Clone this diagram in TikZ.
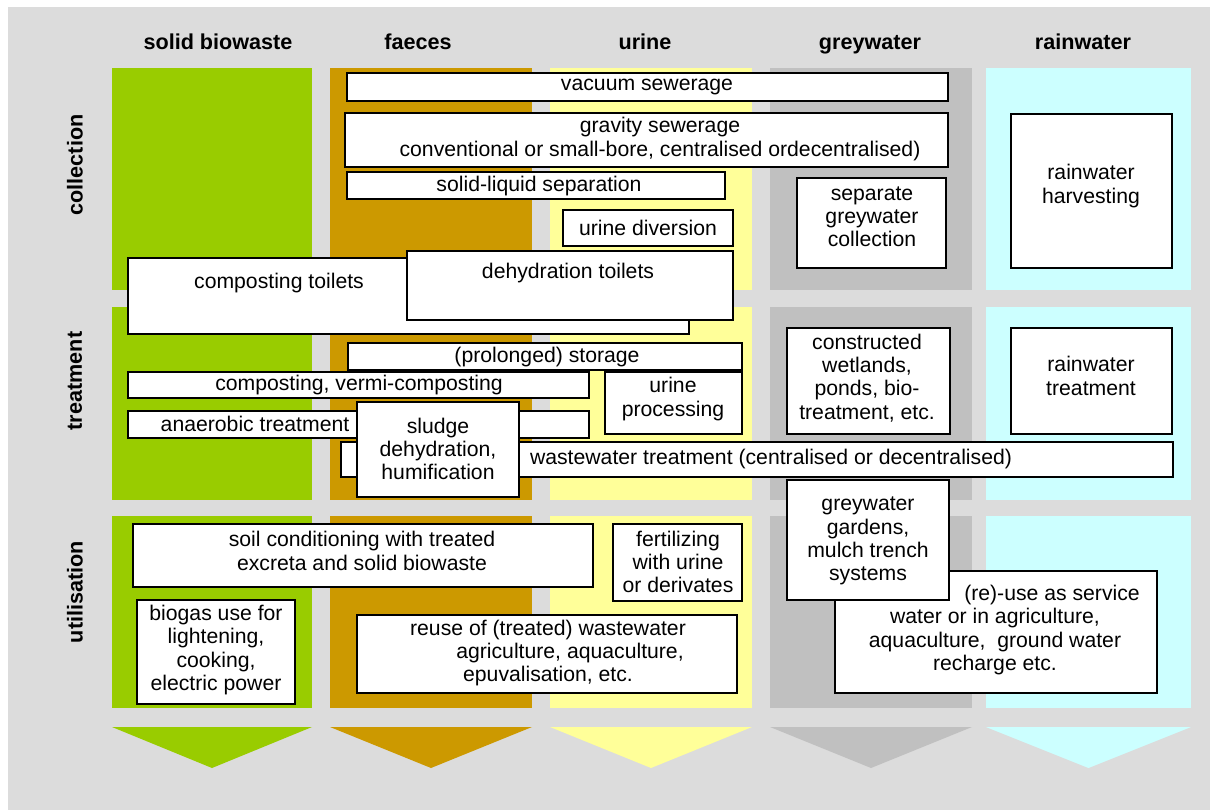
\documentclass[tikz,border=0pt]{standalone}
\usepackage{fontspec}
\setmainfont{Liberation Sans}
\definecolor{colBack}{HTML}{DCDCDC}
\definecolor{colBio}{HTML}{99CC00}
\definecolor{colFaeces}{HTML}{CC9900}
\definecolor{colUrine}{HTML}{FFFF99}
\definecolor{colGrey}{HTML}{C0C0C0}
\definecolor{colRain}{HTML}{CCFFFF}
\begin{document}
\begin{tikzpicture}[x=0.5pt,y=0.5pt,yscale=-1,
  box/.style={draw=black,fill=white,line width=1pt},
  txt/.style={align=center,inner sep=0pt,font=\fontsize{10.6}{11.6}\selectfont},
  head/.style={anchor=base,inner sep=0pt,font=\fontsize{10.8}{12}\selectfont\bfseries},
  rowlab/.style={rotate=90,inner sep=0pt,font=\fontsize{10.8}{12}\selectfont\bfseries}]
	\useasboundingbox (0,0) rectangle (1213,812);
	%background
	\fill[colBack] (8,7) rectangle (1210,810);
	%columns: three rows and a chevron each
	\foreach \l/\r/\c in {112/312/colBio, 330/532/colFaeces, 550/752/colUrine, 770/972/colGrey, 986/1191/colRain}{
		\fill[\c] (\l,68) rectangle (\r,290);
		\fill[\c] (\l,307) rectangle (\r,500);
		\fill[\c] (\l,516) rectangle (\r,708);
		\fill[\c] (\l,727) -- (\r,727) -- ({(\l+\r)/2},768) -- cycle;
	}
	% Text Node
	\draw (218,50) node[head] (hbio) {solid biowaste};
	\draw (418,50) node[head] (hfaeces) {faeces};
	\draw (645,50) node[head] (hurine) {urine};
	\draw (870,50) node[head] (hgrey) {greywater};
	\draw (1083,50) node[head] (hrain) {rainwater};
	% Text Node
	\draw (75,165) node[rowlab] (rcoll) {collection};
	\draw (75,381) node[rowlab] (rtreat) {treatment};
	\draw (75,592) node[rowlab] (rutil) {utilisation};

	%collection
	%Shape: Rectangle
	\draw[box] (347,73) rectangle (948,101);
	\draw (647,87) node[txt] (vacuum) {vacuum sewerage};
	%Shape: Rectangle
	\draw[box] (345,113) rectangle (948,167);
	\draw (660,139) node[txt] (gravity) {gravity sewerage\\conventional or small-bore, centralised ordecentralised)};
	%Shape: Rectangle
	\draw[box] (347,172) rectangle (725,199);
	\draw (539,186) node[txt] (solliq) {solid-liquid separation};
	%Shape: Rectangle
	\draw[box] (563,210) rectangle (733,246);
	\draw (648,228) node[txt] (udiv) {urine diversion};
	%Shape: Rectangle
	\draw[box] (797,178) rectangle (946,268);
	\draw (872,217) node[txt] (sepgrey) {separate\\greywater\\collection};
	%Shape: Rectangle
	\draw[box] (1011,114) rectangle (1172,268);
	\draw (1091,186) node[txt] (rharvest) {rainwater\\harvesting};
	%toilets
	%Shape: Rectangle
	\draw[box] (128,258) rectangle (689,334);
	\draw (279,283) node[txt] (comptoil) {composting toilets};
	%Shape: Rectangle
	\draw[box] (407,251) rectangle (733,320);
	\draw (568,273) node[txt] (dehytoil) {dehydration toilets};

	%treatment
	%Shape: Rectangle
	\draw[box] (348,343) rectangle (742,370);
	\draw (547,357) node[txt] (storage) {(prolonged) storage};
	%Shape: Rectangle
	\draw[box] (128,372) rectangle (589,398);
	\draw (359,385) node[txt] (vermi) {composting, vermi-composting};
	%Shape: Rectangle
	\draw[box] (605,372) rectangle (742,434);
	\draw (673,399) node[txt] (uproc) {urine\\processing};
	%Shape: Rectangle
	\draw[box] (128,411) rectangle (589,438);
	\draw (255,424) node[txt] (anaer) {anaerobic treatment};
	%Shape: Rectangle
	\draw[box] (341,442) rectangle (1173,477);
	\draw (771,459) node[txt] (wwtreat) {wastewater treatment (centralised or decentralised)};
	%Shape: Rectangle
	\draw[box] (357,402) rectangle (519,497);
	\draw (438,449) node[txt] (sludge) {sludge\\dehydration,\\humification};
	%Shape: Rectangle
	\draw[box] (787,328) rectangle (950,434);
	\draw (867,378) node[txt] (wetland) {constructed\\wetlands,\\ponds, bio-\\treatment, etc.};
	%Shape: Rectangle
	\draw[box] (1011,328) rectangle (1172,434);
	\draw (1091,376) node[txt] (rtreatment) {rainwater\\treatment};

	%utilisation
	%Shape: Rectangle
	\draw[box] (133,524) rectangle (593,587);
	\draw (362,551) node[txt] (soil) {soil conditioning with treated\\excreta and solid biowaste};
	%Shape: Rectangle
	\draw[box] (613,524) rectangle (742,601);
	\draw (678,562) node[txt] (fert) {fertilizing\\with urine\\or derivates};
	%Shape: Rectangle
	\draw[box] (137,600) rectangle (295,704);
	\draw (216,650) node[txt] (biogas) {biogas use for\\lightening,\\cooking,\\electric power};
	%Shape: Rectangle
	\draw[box] (357,615) rectangle (737,693);
	\draw (548,653) node[txt] (reuse) {reuse of (treated) wastewater\\\hspace*{22pt}agriculture, aquaculture,\\epuvalisation, etc.};
	%Shape: Rectangle
	\draw[box] (835,571) rectangle (1157,693);
	\draw (995,630) node[txt] (service) {\hspace*{57pt}(re)-use as service\\water or in agriculture,\\aquaculture,\ \ ground water\\recharge etc.};
	%Shape: Rectangle
	\draw[box] (787,480) rectangle (949,600);
	\draw (868,541) node[txt] (gardens) {greywater\\gardens,\\mulch trench\\systems};
\end{tikzpicture}
\end{document}
